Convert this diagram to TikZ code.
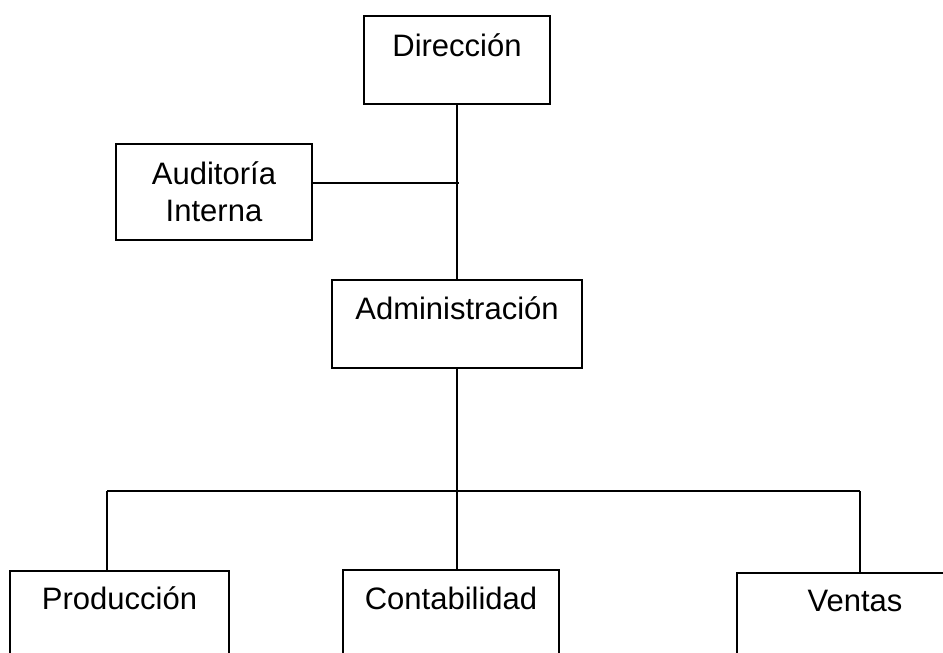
\documentclass[tikz,border=0pt]{standalone}
\usepackage{fontspec}
\setmainfont{Liberation Sans}
\begin{document}
\begin{tikzpicture}[x=1pt,y=-1pt,line width=1.6pt]
\tikzstyle{every node}=[draw,rectangle,anchor=north,inner sep=0pt,align=center,font=\fontsize{31}{37}\selectfont]
\clip (0,0) rectangle (943,653);
\useasboundingbox (0,0) rectangle (943,653);
\node[minimum width=186pt,text height=41pt,text depth=47pt](dir) at (457,15) {Dirección};
\node[minimum width=196pt,text height=78pt,text depth=18pt](aud) at (214,143) {Auditoría\\Interna};
\node[minimum width=250pt,text height=40pt,text depth=48pt](adm) at (457,279) {Administración};
\node[minimum width=219pt,text height=39pt,text depth=100pt](pro) at (119.5,570) {Producción};
\node[minimum width=216pt,text height=40pt,text depth=100pt](con) at (451,569) {Contabilidad};
\node[minimum width=236pt,text height=39pt,text depth=100pt](ven) at (855,572) {Ventas};
\coordinate (aj) at (459,183);
\coordinate (bl) at (107,491);
\coordinate (bm) at (457,491);
\coordinate (br) at (860,491);
\draw (dir.south) -- (dir.south |- adm.north);
\draw (aud.east |- aj) -- (aj);
\draw (adm.south) -- (adm.south |- bm);
\draw (bl) -- (br);
\draw (bl) -- (bl |- pro.north);
\draw (bm) -- (bm |- con.north);
\draw (br) -- (br |- ven.north);
\end{tikzpicture}
\end{document}
